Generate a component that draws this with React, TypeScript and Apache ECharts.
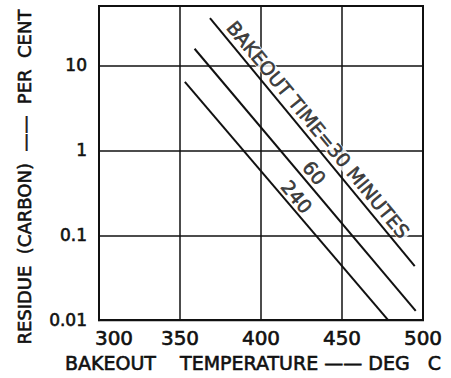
import React, { useEffect, useRef } from "react";
import * as echarts from "echarts";

// Bakeout temperature (deg C) vs residue (carbon, per cent), log scale
const tempsT30 = [368.5, 494.9];
const residueT30 = [36, 0.0433];
const tempsT60 = [359, 495.5];
const residueT60 = [15.7, 0.0129];
const tempsT240 = [353, 478.5];
const residueT240 = [6.4, 0.01];

const curveLabels = ["BAKEOUT TIME=30 MINUTES", "60", "240"];
const labelTemps = [435.3, 433.0, 422.1];
const labelResidues = [1.764, 0.545, 0.284];

const xMin = 300;
const xMax = 500;
const xStep = 50;
const yMin = 0.01;
const yMax = 50;

const xTitle = "BAKEOUT    TEMPERATURE —— DEG   C";
const yTitle = "RESIDUE  (CARBON)  ——  PER  CENT";

const FONT = "DejaVu Sans";
const INK = "#111";
const heavy = { textBorderColor: INK, textBorderWidth: 0.6 };

const zip = (xs: number[], ys: number[]) => xs.map((x, i) => [x, ys[i]]);

export default function App() {
  const ref = useRef<HTMLDivElement>(null);
  useEffect(() => {
    if (!ref.current) return;
    const chart = echarts.init(ref.current, null, { renderer: "svg" });
    const lineSeries = (name: string, data: number[][]) => ({
      name,
      type: "line",
      data,
      symbol: "none",
      lineStyle: { color: INK, width: 2 },
      z: 3,
    });
    chart.setOption({
      animation: false,
      backgroundColor: "#fff",
      grid: {
        left: 99,
        right: 28,
        top: 6,
        bottom: 55,
        show: true,
        borderColor: INK,
        borderWidth: 2,
        backgroundColor: "transparent",
      },
      xAxis: {
        type: "value",
        min: xMin,
        max: xMax,
        interval: xStep,
        name: xTitle,
        nameLocation: "middle",
        nameGap: 30,
        nameTextStyle: {
          fontFamily: FONT,
          fontSize: 19,
          color: INK,
          padding: [0, 16, 0, 0],
          ...heavy,
        },
        axisLine: { show: true, lineStyle: { color: INK, width: 2 } },
        axisTick: { show: false },
        splitLine: { show: true, lineStyle: { color: INK, width: 1.5 } },
        axisLabel: {
          fontFamily: FONT,
          fontSize: 20,
          color: INK,
          margin: 8,
          ...heavy,
          formatter: (v: number) => (v === xMin ? "{first|" + v + "}" : String(v)),
          rich: {
            first: {
              fontFamily: FONT,
              fontSize: 20,
              color: INK,
              padding: [0, 0, 0, 30],
              ...heavy,
            },
          },
        },
      },
      yAxis: {
        type: "log",
        logBase: 10,
        min: yMin,
        max: yMax,
        name: yTitle,
        nameLocation: "middle",
        nameGap: 66,
        nameTextStyle: {
          fontFamily: FONT,
          fontSize: 18,
          color: INK,
          padding: [0, 28, 0, 0],
          ...heavy,
        },
        axisLine: { show: true, lineStyle: { color: INK, width: 2 } },
        axisTick: { show: false },
        splitLine: { show: true, lineStyle: { color: INK, width: 1.5 } },
        axisLabel: {
          fontFamily: FONT,
          fontSize: 17,
          color: INK,
          margin: 12,
          showMaxLabel: false,
          ...heavy,
          formatter: (v: number) => String(v),
        },
      },
      series: [
        lineSeries("30 minutes", zip(tempsT30, residueT30)),
        lineSeries("60 minutes", zip(tempsT60, residueT60)),
        lineSeries("240 minutes", zip(tempsT240, residueT240)),
        {
          name: "curve labels",
          type: "scatter",
          symbolSize: 0,
          z: 4,
          data: curveLabels.map((t, i) => ({
            name: t,
            value: [labelTemps[i], labelResidues[i]],
          })),
          label: {
            show: true,
            position: "inside",
            formatter: (p: any) => p.name,
            rotate: -50.5,
            fontFamily: FONT,
            fontSize: 19,
            lineHeight: 16,
            color: INK,
            ...heavy,
            backgroundColor: "#fff",
            padding: [0, 2],
            align: "center",
            verticalAlign: "middle",
          },
          emphasis: { disabled: true },
        },
      ],
    });
    return () => chart.dispose();
  }, []);
  return (
    <div
      ref={ref}
      style={{ position: "fixed", left: 0, top: 0, width: 451, height: 378 }}
    />
  );
}
